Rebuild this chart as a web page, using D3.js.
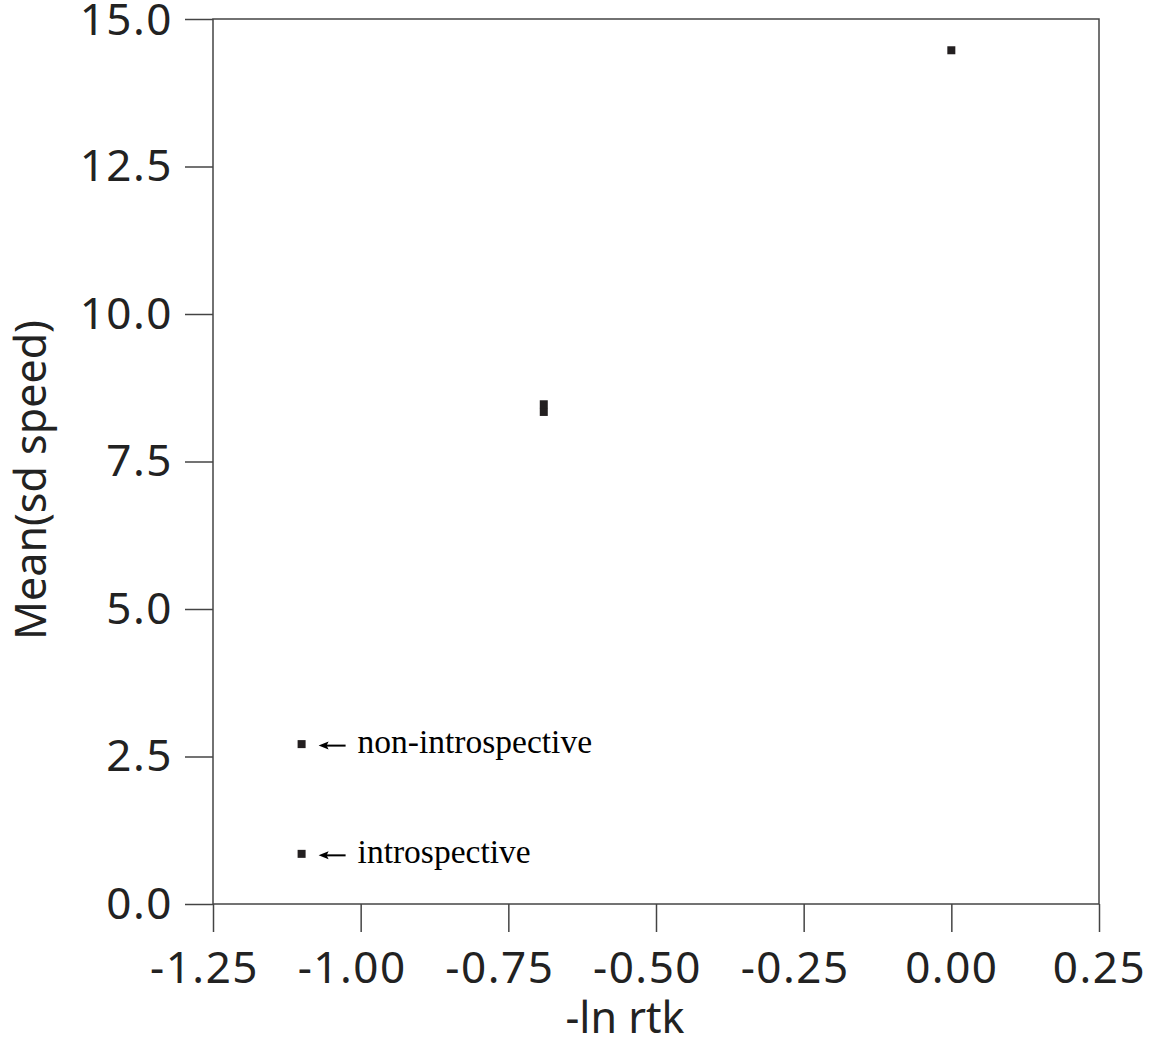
<!DOCTYPE html>
<html>
<head>
<meta charset="utf-8">
<script src="https://cdn.jsdelivr.net/npm/d3@7"></script>
<style>
  body { margin: 0; background: #fff; }
  svg { display: block; }
</style>
</head>
<body>
<svg id="chart"></svg>
<script>
// Data.
const xValues = [-1.10, -1.10, -0.69, -0.69, 0.00];
const yValues = [0.85, 2.71, 8.34, 8.47, 14.47];
const notes = [
  { x: -1.10, y: 2.71, text: 'non-introspective' },
  { x: -1.10, y: 0.85, text: 'introspective' }
];
const xTicks = [-1.25, -1.00, -0.75, -0.50, -0.25, 0.00, 0.25];
const yTicks = [0, 2.5, 5, 7.5, 10, 12.5, 15];

// Set up.
const width = 1154;
const height = 1047;
const margin = { top: 19, right: 55, bottom: 143, left: 213 };
const ink = '#444';
const sans = '"Noto Sans", "Open Sans", sans-serif';

const svg = d3.select('#chart')
  .attr('width', width)
  .attr('height', height);

const x = d3.scaleLinear()
  .domain([-1.25, 0.25])
  .range([margin.left, width - margin.right]);
const y = d3.scaleLinear()
  .domain([0, 15])
  .range([height - margin.bottom, margin.top]);

// Frame.
svg.append('rect')
  .attr('x', x(-1.25))
  .attr('y', y(15))
  .attr('width', x(0.25) - x(-1.25))
  .attr('height', y(0) - y(15))
  .attr('fill', 'none')
  .attr('stroke', ink)
  .attr('stroke-width', 1.5);

// Axes.
const xAxis = svg.append('g')
  .attr('transform', `translate(0,${y(0)})`)
  .call(d3.axisBottom(x).tickValues(xTicks).tickFormat(d => d3.format('.2f')(d).replace('−', '-')).tickSize(28).tickPadding(20));
const yAxis = svg.append('g')
  .attr('transform', `translate(${x(-1.25)},0)`)
  .call(d3.axisLeft(y).tickValues(yTicks).tickFormat(d3.format('.1f')).tickSize(28).tickPadding(12));

[xAxis, yAxis].forEach(g => {
  g.select('.domain').remove();
  g.selectAll('line').attr('stroke', ink).attr('stroke-width', 1.5);
  g.selectAll('text')
    .attr('fill', '#222')
    .style('font-family', sans)
    .style('font-size', '44px')
    .style('letter-spacing', '1.5px');
});
// Digits sit centred on the tick, the minus hangs to the left.
xAxis.selectAll('text').attr('dx', d => d < 0 ? -9 : 0);
yAxis.selectAll('text').attr('dy', d => d === 15 ? '0.36em' : '0.32em');

// Axis titles.
svg.append('text')
  .attr('x', 625)
  .attr('y', 1033)
  .attr('text-anchor', 'middle')
  .attr('fill', '#222')
  .style('font-family', sans)
  .style('font-size', '43px')
  .text('-ln rtk');
svg.append('text')
  .attr('transform', 'translate(46,480) rotate(-90)')
  .attr('text-anchor', 'middle')
  .attr('fill', '#222')
  .style('font-family', sans)
  .style('font-size', '43px')
  .text('Mean(sd speed)');

// Points.
const side = 8;
svg.append('g')
  .selectAll('rect')
  .data(d3.range(xValues.length))
  .join('rect')
  .attr('x', i => x(xValues[i]) - side / 2)
  .attr('y', i => y(yValues[i]) - side / 2)
  .attr('width', side)
  .attr('height', side)
  .attr('fill', '#231f20');

// Notes with arrows.
const note = svg.append('g')
  .selectAll('g')
  .data(notes)
  .join('g')
  .attr('transform', d => `translate(${x(d.x)},${y(d.y)})`);
note.append('line')
  .attr('x1', 22).attr('x2', 44)
  .attr('y1', 1.5).attr('y2', 1.5)
  .attr('stroke', '#000')
  .attr('stroke-width', 2);
note.append('path')
  .attr('d', 'M17,1.5 L27,-2.5 L25,1.5 L27,5.5 Z')
  .attr('fill', '#000');
note.append('text')
  .attr('x', 56)
  .attr('y', 9)
  .attr('fill', '#000')
  .style('font-family', '"Liberation Serif", "DejaVu Serif", serif')
  .style('font-size', '33.5px')
  .text(d => d.text);
</script>
</body>
</html>
